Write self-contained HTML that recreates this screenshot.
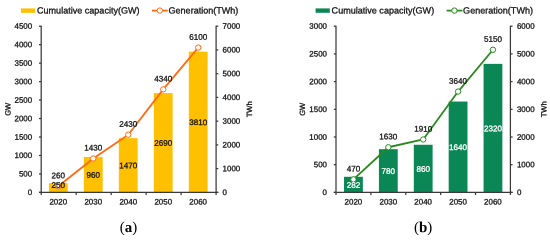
<!DOCTYPE html>
<html lang="en">
<head>
<meta charset="utf-8">
<title>Cumulative capacity and generation</title>
<style>
html,body{margin:0;padding:0;background:#fff;}
body{width:550px;height:240px;overflow:hidden;}
svg{display:block;will-change:transform;font-family:"Liberation Sans",sans-serif;text-rendering:geometricPrecision;}
svg text{stroke-width:0.28px;}
</style>
</head>
<body>
<svg width="550" height="240" viewBox="0 0 550 240">
<rect width="550" height="240" fill="#fff"/>
<g>
<rect x="48.89" y="183.17" width="18.8" height="9.23" fill="#FFC000"/>
<rect x="83.87" y="156.94" width="18.8" height="35.46" fill="#FFC000"/>
<rect x="118.85" y="138.11" width="18.8" height="54.29" fill="#FFC000"/>
<rect x="153.83" y="93.05" width="18.8" height="99.35" fill="#FFC000"/>
<rect x="188.81" y="51.68" width="18.8" height="140.72" fill="#FFC000"/>
<g stroke="#3a3a3a" stroke-width="1.25" fill="none">
<path d="M41.2 25.8V192.4"/>
<path d="M216.1 25.8V192.4"/>
<path d="M39.00 192.4H218.30"/>
<path d="M39.00 192.40H41.2"/>
<path d="M39.00 173.93H41.2"/>
<path d="M39.00 155.47H41.2"/>
<path d="M39.00 137.00H41.2"/>
<path d="M39.00 118.53H41.2"/>
<path d="M39.00 100.07H41.2"/>
<path d="M39.00 81.60H41.2"/>
<path d="M39.00 63.13H41.2"/>
<path d="M39.00 44.67H41.2"/>
<path d="M39.00 26.20H41.2"/>
<path d="M216.1 192.40H218.30"/>
<path d="M216.1 168.66H218.30"/>
<path d="M216.1 144.91H218.30"/>
<path d="M216.1 121.17H218.30"/>
<path d="M216.1 97.43H218.30"/>
<path d="M216.1 73.69H218.30"/>
<path d="M216.1 49.94H218.30"/>
<path d="M216.1 26.20H218.30"/>
<path d="M41.20 192.4V195.0"/>
<path d="M76.18 192.4V195.0"/>
<path d="M111.16 192.4V195.0"/>
<path d="M146.14 192.4V195.0"/>
<path d="M181.12 192.4V195.0"/>
<path d="M216.10 192.4V195.0"/>
</g>
<g font-size="7.95" fill="#111" stroke="#111">
<text x="32.2" y="195.06" transform="rotate(0.03 32.2 195.06)" text-anchor="end">0</text>
<text x="32.2" y="176.60" transform="rotate(0.03 32.2 176.60)" text-anchor="end">500</text>
<text x="32.2" y="158.13" transform="rotate(0.03 32.2 158.13)" text-anchor="end">1000</text>
<text x="32.2" y="139.66" transform="rotate(0.03 32.2 139.66)" text-anchor="end">1500</text>
<text x="32.2" y="121.20" transform="rotate(0.03 32.2 121.20)" text-anchor="end">2000</text>
<text x="32.2" y="102.73" transform="rotate(0.03 32.2 102.73)" text-anchor="end">2500</text>
<text x="32.2" y="84.26" transform="rotate(0.03 32.2 84.26)" text-anchor="end">3000</text>
<text x="32.2" y="65.80" transform="rotate(0.03 32.2 65.80)" text-anchor="end">3500</text>
<text x="32.2" y="47.33" transform="rotate(0.03 32.2 47.33)" text-anchor="end">4000</text>
<text x="32.2" y="28.86" transform="rotate(0.03 32.2 28.86)" text-anchor="end">4500</text>
<text x="222.6" y="195.06" transform="rotate(0.03 222.6 195.06)">0</text>
<text x="222.6" y="171.32" transform="rotate(0.03 222.6 171.32)">1000</text>
<text x="222.6" y="147.58" transform="rotate(0.03 222.6 147.58)">2000</text>
<text x="222.6" y="123.83" transform="rotate(0.03 222.6 123.83)">3000</text>
<text x="222.6" y="100.09" transform="rotate(0.03 222.6 100.09)">4000</text>
<text x="222.6" y="76.35" transform="rotate(0.03 222.6 76.35)">5000</text>
<text x="222.6" y="52.61" transform="rotate(0.03 222.6 52.61)">6000</text>
<text x="222.6" y="28.86" transform="rotate(0.03 222.6 28.86)">7000</text>
<text x="58.29" y="204.50" transform="rotate(0.03 58.29 204.50)" text-anchor="middle">2020</text>
<text x="93.27" y="204.50" transform="rotate(0.03 93.27 204.50)" text-anchor="middle">2030</text>
<text x="128.25" y="204.50" transform="rotate(0.03 128.25 204.50)" text-anchor="middle">2040</text>
<text x="163.23" y="204.50" transform="rotate(0.03 163.23 204.50)" text-anchor="middle">2050</text>
<text x="198.21" y="204.50" transform="rotate(0.03 198.21 204.50)" text-anchor="middle">2060</text>
<text transform="translate(10.44 109.30) rotate(-89.97)" text-anchor="middle" font-size="7.6">GW</text>
<text transform="translate(251.94 109.30) rotate(-89.97)" text-anchor="middle" font-size="7.6">TWh</text>
</g>
<polyline points="58.29,186.23 93.27,158.45 128.25,134.70 163.23,89.36 198.21,47.57" fill="none" stroke="#FF6A13" stroke-width="1.8" stroke-linejoin="round"/>
<circle cx="58.29" cy="186.23" r="2.7" fill="#fff" stroke="#FF6A13" stroke-width="1.0"/>
<circle cx="93.27" cy="158.45" r="2.7" fill="#fff" stroke="#FF6A13" stroke-width="1.0"/>
<circle cx="128.25" cy="134.70" r="2.7" fill="#fff" stroke="#FF6A13" stroke-width="1.0"/>
<circle cx="163.23" cy="89.36" r="2.7" fill="#fff" stroke="#FF6A13" stroke-width="1.0"/>
<circle cx="198.21" cy="47.57" r="2.7" fill="#fff" stroke="#FF6A13" stroke-width="1.0"/>
<g font-size="8.1" text-anchor="middle">
<text x="58.29" y="187.89" transform="rotate(0.03 58.29 187.89)" fill="#111" stroke="#111">250</text>
<text x="93.27" y="177.76" transform="rotate(0.03 93.27 177.76)" fill="#111" stroke="#111">960</text>
<text x="128.25" y="168.34" transform="rotate(0.03 128.25 168.34)" fill="#111" stroke="#111">1470</text>
<text x="163.23" y="145.81" transform="rotate(0.03 163.23 145.81)" fill="#111" stroke="#111">2690</text>
<text x="198.21" y="125.13" transform="rotate(0.03 198.21 125.13)" fill="#111" stroke="#111">3810</text>
<text x="58.29" y="178.36" transform="rotate(0.03 58.29 178.36)" fill="#111" stroke="#111">260</text>
<text x="93.27" y="150.58" transform="rotate(0.03 93.27 150.58)" fill="#111" stroke="#111">1430</text>
<text x="128.25" y="126.84" transform="rotate(0.03 128.25 126.84)" fill="#111" stroke="#111">2430</text>
<text x="163.23" y="81.49" transform="rotate(0.03 163.23 81.49)" fill="#111" stroke="#111">4340</text>
<text x="198.21" y="39.70" transform="rotate(0.03 198.21 39.70)" fill="#111" stroke="#111">6100</text>
</g>
<rect x="21" y="8.4" width="14.2" height="4.4" fill="#FFC000"/>
<text x="37" y="13.5" transform="rotate(0.03 37 13.5)" font-size="9.05" fill="#111" stroke="#111" stroke-width="0.08">Cumulative capacity(GW)</text>
<path d="M152 10.6h15.8" stroke="#FF6A13" stroke-width="1.8"/>
<circle cx="159.8" cy="10.6" r="2.7" fill="#fff" stroke="#FF6A13" stroke-width="1.0"/>
<text x="168.5" y="13.5" transform="rotate(0.03 168.5 13.5)" font-size="9.05" fill="#111" stroke="#111" stroke-width="0.08">Generation(TWh)</text>
<text x="128.5" y="232" transform="rotate(0.03 128.5 232)" font-size="15" text-anchor="middle" fill="#000" font-family="'Liberation Serif', serif">(<tspan font-weight="bold">a</tspan>)</text>
</g>
<g>
<rect x="344.04" y="176.78" width="18.8" height="15.62" fill="#0A8754"/>
<rect x="378.92" y="149.19" width="18.8" height="43.21" fill="#0A8754"/>
<rect x="413.80" y="144.76" width="18.8" height="47.64" fill="#0A8754"/>
<rect x="448.68" y="101.54" width="18.8" height="90.86" fill="#0A8754"/>
<rect x="483.56" y="63.87" width="18.8" height="128.53" fill="#0A8754"/>
<g stroke="#3a3a3a" stroke-width="1.25" fill="none">
<path d="M336.0 25.8V192.4"/>
<path d="M510.4 25.8V192.4"/>
<path d="M333.80 192.4H512.60"/>
<path d="M333.80 192.40H336.0"/>
<path d="M333.80 164.70H336.0"/>
<path d="M333.80 137.00H336.0"/>
<path d="M333.80 109.30H336.0"/>
<path d="M333.80 81.60H336.0"/>
<path d="M333.80 53.90H336.0"/>
<path d="M333.80 26.20H336.0"/>
<path d="M510.4 192.40H512.60"/>
<path d="M510.4 164.70H512.60"/>
<path d="M510.4 137.00H512.60"/>
<path d="M510.4 109.30H512.60"/>
<path d="M510.4 81.60H512.60"/>
<path d="M510.4 53.90H512.60"/>
<path d="M510.4 26.20H512.60"/>
<path d="M336.00 192.4V195.0"/>
<path d="M370.88 192.4V195.0"/>
<path d="M405.76 192.4V195.0"/>
<path d="M440.64 192.4V195.0"/>
<path d="M475.52 192.4V195.0"/>
<path d="M510.40 192.4V195.0"/>
</g>
<g font-size="7.95" fill="#111" stroke="#111">
<text x="327.0" y="195.06" transform="rotate(0.03 327.0 195.06)" text-anchor="end">0</text>
<text x="327.0" y="167.36" transform="rotate(0.03 327.0 167.36)" text-anchor="end">500</text>
<text x="327.0" y="139.66" transform="rotate(0.03 327.0 139.66)" text-anchor="end">1000</text>
<text x="327.0" y="111.96" transform="rotate(0.03 327.0 111.96)" text-anchor="end">1500</text>
<text x="327.0" y="84.26" transform="rotate(0.03 327.0 84.26)" text-anchor="end">2000</text>
<text x="327.0" y="56.56" transform="rotate(0.03 327.0 56.56)" text-anchor="end">2500</text>
<text x="327.0" y="28.86" transform="rotate(0.03 327.0 28.86)" text-anchor="end">3000</text>
<text x="516.9" y="195.06" transform="rotate(0.03 516.9 195.06)">0</text>
<text x="516.9" y="167.36" transform="rotate(0.03 516.9 167.36)">1000</text>
<text x="516.9" y="139.66" transform="rotate(0.03 516.9 139.66)">2000</text>
<text x="516.9" y="111.96" transform="rotate(0.03 516.9 111.96)">3000</text>
<text x="516.9" y="84.26" transform="rotate(0.03 516.9 84.26)">4000</text>
<text x="516.9" y="56.56" transform="rotate(0.03 516.9 56.56)">5000</text>
<text x="516.9" y="28.86" transform="rotate(0.03 516.9 28.86)">6000</text>
<text x="353.44" y="204.50" transform="rotate(0.03 353.44 204.50)" text-anchor="middle">2020</text>
<text x="388.32" y="204.50" transform="rotate(0.03 388.32 204.50)" text-anchor="middle">2030</text>
<text x="423.20" y="204.50" transform="rotate(0.03 423.20 204.50)" text-anchor="middle">2040</text>
<text x="458.08" y="204.50" transform="rotate(0.03 458.08 204.50)" text-anchor="middle">2050</text>
<text x="492.96" y="204.50" transform="rotate(0.03 492.96 204.50)" text-anchor="middle">2060</text>
<text transform="translate(305.04 109.30) rotate(-89.97)" text-anchor="middle" font-size="7.6">GW</text>
<text transform="translate(546.54 109.30) rotate(-89.97)" text-anchor="middle" font-size="7.6">TWh</text>
</g>
<polyline points="353.44,179.38 388.32,147.25 423.20,139.49 458.08,91.57 492.96,49.75" fill="none" stroke="#2A8A20" stroke-width="1.8" stroke-linejoin="round"/>
<circle cx="353.44" cy="179.38" r="2.7" fill="#fff" stroke="#2A8A20" stroke-width="1.0"/>
<circle cx="388.32" cy="147.25" r="2.7" fill="#fff" stroke="#2A8A20" stroke-width="1.0"/>
<circle cx="423.20" cy="139.49" r="2.7" fill="#fff" stroke="#2A8A20" stroke-width="1.0"/>
<circle cx="458.08" cy="91.57" r="2.7" fill="#fff" stroke="#2A8A20" stroke-width="1.0"/>
<circle cx="492.96" cy="49.75" r="2.7" fill="#fff" stroke="#2A8A20" stroke-width="1.0"/>
<g font-size="8.1" text-anchor="middle">
<text x="353.44" y="187.67" transform="rotate(0.03 353.44 187.67)" fill="#fff" stroke="#fff" stroke-width="0.05">282</text>
<text x="388.32" y="173.88" transform="rotate(0.03 388.32 173.88)" fill="#fff" stroke="#fff" stroke-width="0.05">780</text>
<text x="423.20" y="171.66" transform="rotate(0.03 423.20 171.66)" fill="#fff" stroke="#fff" stroke-width="0.05">860</text>
<text x="458.08" y="150.06" transform="rotate(0.03 458.08 150.06)" fill="#fff" stroke="#fff" stroke-width="0.05">1640</text>
<text x="492.96" y="131.22" transform="rotate(0.03 492.96 131.22)" fill="#fff" stroke="#fff" stroke-width="0.05">2320</text>
<text x="353.44" y="171.51" transform="rotate(0.03 353.44 171.51)" fill="#111" stroke="#111">470</text>
<text x="388.32" y="139.38" transform="rotate(0.03 388.32 139.38)" fill="#111" stroke="#111">1630</text>
<text x="423.20" y="131.63" transform="rotate(0.03 423.20 131.63)" fill="#111" stroke="#111">1910</text>
<text x="458.08" y="83.70" transform="rotate(0.03 458.08 83.70)" fill="#111" stroke="#111">3640</text>
<text x="492.96" y="41.88" transform="rotate(0.03 492.96 41.88)" fill="#111" stroke="#111">5150</text>
</g>
<rect x="315.6" y="8.4" width="14.2" height="4.4" fill="#0A8754"/>
<text x="331.6" y="13.5" transform="rotate(0.03 331.6 13.5)" font-size="9.05" fill="#111" stroke="#111" stroke-width="0.08">Cumulative capacity(GW)</text>
<path d="M446.6 10.6h15.8" stroke="#2A8A20" stroke-width="1.8"/>
<circle cx="454.40000000000003" cy="10.6" r="2.7" fill="#fff" stroke="#2A8A20" stroke-width="1.0"/>
<text x="463.1" y="13.5" transform="rotate(0.03 463.1 13.5)" font-size="9.05" fill="#111" stroke="#111" stroke-width="0.08">Generation(TWh)</text>
<text x="423.1" y="232" transform="rotate(0.03 423.1 232)" font-size="15" text-anchor="middle" fill="#000" font-family="'Liberation Serif', serif">(<tspan font-weight="bold">b</tspan>)</text>
</g>
</svg>
</body>
</html>
